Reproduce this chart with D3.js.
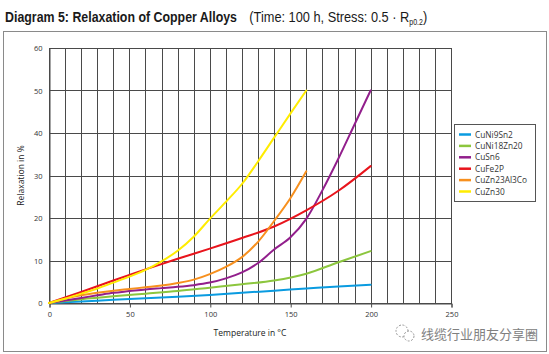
<!DOCTYPE html>
<html>
<head>
<meta charset="utf-8">
<script src="https://cdn.jsdelivr.net/npm/d3@7"></script>
<style>
  body { margin: 0; background: #fff; }
  svg { display: block; }
</style>
</head>
<body>
<div id="chart"></div>
<script>
const titleMain = 'Diagram 5: Relaxation of Copper Alloys'
const titleSub = '(Time: 100 h, Stress: 0.5 · R'
const titleIndex = 'p0.2'
const xLabel = 'Temperature in °C'
const yLabel = 'Relaxation in %'
const xTicks = [0, 50, 100, 150, 200, 250]
const yTicks = [0, 10, 20, 30, 40, 50, 60]

const alloys = ['CuNi9Sn2', 'CuNi18Zn20', 'CuSn6', 'CuFe2P', 'CuZn23Al3Co', 'CuZn30']
const colors = ['#0a9be0', '#8cc63e', '#921f8c', '#e8141c', '#f7901e', '#ffec00']

const tempsLong = [0, 20, 40, 60, 80, 100, 120, 140, 160, 180, 200]
const tempsPurple = [0, 10, 20, 30, 40, 50, 60, 70, 80, 90, 100, 110, 120, 130, 140, 150, 160, 170, 180, 190, 200]
const tempsShort = [0, 10, 20, 30, 40, 50, 60, 70, 80, 90, 100, 110, 120, 130, 140, 150, 160]

const cuNi9Sn2 = [0, 0.35, 0.75, 1.1, 1.45, 1.9, 2.4, 2.9, 3.4, 3.9, 4.3]
const cuNi18Zn20 = [0, 0.9, 1.6, 2.2, 2.8, 3.6, 4.4, 5.3, 6.9, 9.6, 12.2]
const cuSn6 = [0, 0.6, 1.2, 1.8, 2.4, 2.8, 3.2, 3.5, 3.8, 4.2, 4.8, 5.8, 7.2, 9.4, 12.6, 15.4, 19.8, 26.5, 34, 42, 50]
const cuFe2P = [0, 2.6, 5.3, 7.9, 10.4, 12.8, 15.3, 18, 21.8, 26.4, 32.2]
const cuZn23Al3Co = [0, 1, 1.8, 2.4, 2.9, 3.3, 3.7, 4.1, 4.7, 5.5, 6.8, 8.5, 10.8, 14.4, 19.3, 24.6, 31]
const cuZn30 = [0, 1, 2.2, 3.4, 4.8, 6.2, 7.8, 9.8, 12.3, 15.6, 19.8, 23.8, 28, 33.3, 38.9, 44.5, 50]

const seriesTemps = [tempsLong, tempsLong, tempsPurple, tempsLong, tempsShort, tempsShort]
const seriesValues = [cuNi9Sn2, cuNi18Zn20, cuSn6, cuFe2P, cuZn23Al3Co, cuZn30]

const w = 549
const h = 354
const margin = { top: 48, right: 98, bottom: 51, left: 49 }
const width = w - margin.left - margin.right
const height = h - margin.top - margin.bottom
const font = '"Open Sans", "DejaVu Sans", sans-serif'
const narrow = '"Liberation Sans", Arial, sans-serif'

const svg = d3.select('#chart').append('svg')
  .attr('width', w)
  .attr('height', h)

// outer frame
svg.append('rect')
  .attr('x', 3.5).attr('y', 31.5)
  .attr('width', 543).attr('height', 320)
  .attr('fill', 'none').attr('stroke', '#8a8a8a').attr('stroke-width', 1)

// title: one text, squeezed horizontally to look condensed
const titleG = svg.append('g')
const title = titleG.append('text')
  .attr('font-family', narrow)
  .attr('fill', '#1a1a1a')
const mainSpan = title.append('tspan').attr('font-weight', 'bold').attr('font-size', 15).text(titleMain)
title.append('tspan').attr('dx', 15).attr('font-size', 15.5).text(titleSub)
title.append('tspan').attr('font-size', 8.5).attr('dy', 3).text(titleIndex)
title.append('tspan').attr('font-size', 15.5).attr('dy', -3).text(')')
const sx = 232 / mainSpan.node().getComputedTextLength()
titleG.attr('transform', 'translate(5,22) scale(' + sx + ',1)')

const g = svg.append('g').attr('transform', 'translate(' + margin.left + ',' + margin.top + ')')

const x = d3.scaleLinear().domain([0, 250]).range([0, width])
const y = d3.scaleLinear().domain([0, 60]).range([height, 0])

// grid
g.append('g')
  .selectAll('line')
  .data(d3.range(0, 251, 10))
  .join('line')
  .attr('x1', d => Math.round(x(d)) + 0.5)
  .attr('x2', d => Math.round(x(d)) + 0.5)
  .attr('y1', 0).attr('y2', height)
  .attr('stroke', '#4a4a4a').attr('stroke-width', 1)

g.append('g')
  .selectAll('line')
  .data(yTicks)
  .join('line')
  .attr('x1', 0).attr('x2', x(250) + 1)
  .attr('y1', d => Math.round(y(d)) + 0.5)
  .attr('y2', d => Math.round(y(d)) + 0.5)
  .attr('stroke', '#4a4a4a').attr('stroke-width', 1)

// axes
const xAxis = g.append('g')
  .attr('transform', 'translate(0.5,' + (Math.round(height) + 0.5) + ')')
  .call(d3.axisBottom(x).tickValues(xTicks).tickSize(4).tickPadding(4))
xAxis.select('.domain').attr('stroke', '#4a4a4a')
xAxis.selectAll('line').attr('stroke', '#4a4a4a')
xAxis.selectAll('text').attr('font-family', font).attr('font-size', 7.5).attr('fill', '#333')

const yAxis = g.append('g')
  .attr('transform', 'translate(0.5,0.5)')
  .call(d3.axisLeft(y).tickValues(yTicks).tickSize(0).tickPadding(7))
yAxis.select('.domain').attr('stroke', '#4a4a4a')
yAxis.selectAll('text').attr('font-family', font).attr('font-size', 7.5).attr('fill', '#333')

svg.append('text')
  .attr('transform', 'translate(24,' + (margin.top + height / 2) + ') rotate(-90)')
  .attr('text-anchor', 'middle')
  .attr('font-family', font).attr('font-size', 8.5).attr('fill', '#222')
  .text(yLabel)

svg.append('text')
  .attr('x', margin.left + x(125)).attr('y', 336)
  .attr('text-anchor', 'middle')
  .attr('font-family', font).attr('font-size', 8.5).attr('fill', '#222')
  .text(xLabel)

// curves
const line = d3.line()
  .x(d => x(d[0]))
  .y(d => y(d[1]))
  .curve(d3.curveMonotoneX)

alloys.forEach((name, i) => {
  const pts = seriesTemps[i].map((t, j) => [t, seriesValues[i][j]])
  g.append('path')
    .datum(pts)
    .attr('fill', 'none')
    .attr('stroke', colors[i])
    .attr('stroke-width', 2)
    .attr('stroke-linecap', 'round')
    .attr('d', line)
})

// legend
const legend = svg.append('g').attr('transform', 'translate(454,124)')
legend.append('rect')
  .attr('x', 0.5).attr('y', 0.5)
  .attr('width', 81).attr('height', 77)
  .attr('fill', '#fff').attr('stroke', '#555').attr('stroke-width', 1)

alloys.forEach((name, i) => {
  const row = legend.append('g').attr('transform', 'translate(0,' + (10.5 + i * 11.4) + ')')
  row.append('line')
    .attr('x1', 5).attr('x2', 17)
    .attr('stroke', colors[i]).attr('stroke-width', 2.5)
  row.append('text')
    .attr('x', 21).attr('y', 3)
    .attr('font-family', font).attr('font-size', 8.3).attr('fill', '#333')
    .text(name)
})

// watermark
const wm = svg.append('g').attr('transform', 'translate(404,334)')
wm.append('circle').attr('cx', -2).attr('cy', -3).attr('r', 6)
  .attr('fill', 'none').attr('stroke', '#999').attr('stroke-width', 1).attr('stroke-dasharray', '2,1.5')
wm.append('circle').attr('cx', 5).attr('cy', 2).attr('r', 5)
  .attr('fill', '#fff').attr('stroke', '#999').attr('stroke-width', 1).attr('stroke-dasharray', '2,1.5')
svg.append('text')
  .attr('x', 421).attr('y', 339)
  .attr('font-family', '"Noto Sans CJK SC", sans-serif')
  .attr('font-size', 13).attr('fill', '#808080')
  .text('线缆行业朋友分享圈')
</script>
</body>
</html>
